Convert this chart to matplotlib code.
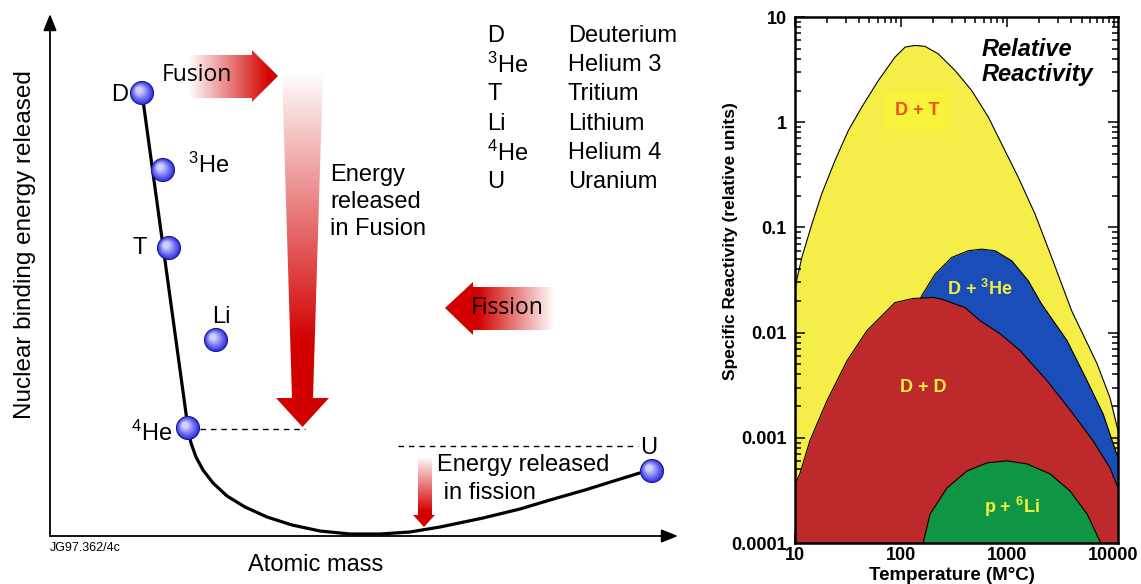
import matplotlib
matplotlib.use('Agg')
import matplotlib.pyplot as plt
import numpy as np
from matplotlib.patches import Polygon, Circle
from matplotlib.ticker import LogLocator, NullFormatter

plt.rcParams['font.family'] = ['Liberation Sans', 'DejaVu Sans']
plt.rcParams['mathtext.fontset'] = 'custom'
plt.rcParams['mathtext.rm'] = 'Liberation Sans'
plt.rcParams['mathtext.bf'] = 'Liberation Sans:bold'
plt.rcParams['mathtext.it'] = 'Liberation Sans:italic'

# ---- left panel: binding energy schematic (arbitrary units, origin at axis corner)
elements = ['D', r'$^{3}$He', 'T', 'Li', r'$^{4}$He', 'U']
elem_x = [92, 113, 119, 166, 138, 602]
elem_y = [443, 366, 288, 196, 108, 65]
label_x = [78, 138, 97, 171, 122, 599]
label_y = [441, 371, 288, 219, 103, 88]
label_ha = ['right', 'left', 'right', 'center', 'right', 'center']

curve_x = [92, 138, 141, 146, 153, 163, 177, 195, 217, 242, 270, 300, 330,
           360, 390, 433, 470, 500, 535, 567, 593]
curve_y = [443, 108, 93, 79, 66, 53, 40, 29, 19, 11, 5, 2, 2,
           4, 9, 18, 27, 36, 46, 56, 64]

legend_symbols = ['D', r'$^{3}$He', 'T', 'Li', r'$^{4}$He', 'U']
legend_names = ['Deuterium', 'Helium 3', 'Tritium', 'Lithium', 'Helium 4', 'Uranium']

# ---- right panel: relative reactivity vs temperature
temp_ticks = [10, 100, 1000, 10000]
temp_ticklabels = ['10', '100', '1000', '10000']
react_ticks = [1e-4, 1e-3, 1e-2, 1e-1, 1, 10]
react_ticklabels = ['0.0001', '0.001', '0.01', '0.1', '1', '10']

dt_T = [10, 11.6, 14.4, 17.8, 23.8, 31.8, 42.5, 60.9, 87.4, 109, 135, 167.5,
        223, 321, 461, 661, 883, 1267, 1820, 2612, 4030, 6980, 9250, 11000]
dt_R = [0.0268, 0.0518, 0.107, 0.207, 0.432, 0.834, 1.39, 2.49, 4.16, 5.18,
        5.37, 5.26, 4.47, 3.11, 2.0, 1.12, 0.621, 0.299, 0.134, 0.0518, 0.0161,
        0.00507, 0.0024, 0.00117]

dhe_T = [63, 109, 156, 208, 299, 428, 573, 764, 1097, 1574, 2104, 3640, 5620,
         7950, 11000]
dhe_R = [0.00145, 0.01045, 0.0224, 0.0359, 0.0518, 0.06, 0.0621, 0.06, 0.0482,
         0.031, 0.0186, 0.0084, 0.00349, 0.00169, 0.000645]

dd_T = [10, 11.1, 13.8, 20, 30.9, 47.6, 87.4, 129, 199, 240, 399, 552,
        851, 1315, 2360, 4150, 6400, 9250, 11000]
dd_R = [0.000365, 0.000454, 0.000936, 0.00225, 0.0054, 0.01045, 0.0193,
        0.0211, 0.0216, 0.0208, 0.0173, 0.013, 0.00977, 0.00674, 0.00349,
        0.00169, 0.000936, 0.000518, 0.000334]

pli_T = [157, 187, 270, 417, 643, 991, 1530, 2517, 3880, 5620, 7950]
pli_R = [0.00009, 0.000189, 0.000334, 0.000485, 0.000578, 0.000604, 0.000565,
         0.000454, 0.000313, 0.000189, 0.00009]

RED = (0.83, 0.0, 0.0)


def gradient_arrow(ax, verts, start, end, z=2):
    # red arrow fading to white from `end` back to `start`
    poly = Polygon(verts, closed=True, fc='none', ec='none')
    ax.add_patch(poly)
    xs, ys = zip(*verts)
    x0, x1, y0, y1 = min(xs), max(xs), min(ys), max(ys)
    n = 200
    gx, gy = np.meshgrid(np.linspace(x0, x1, n), np.linspace(y0, y1, n))
    d = np.array(end, float) - np.array(start, float)
    t = ((gx - start[0]) * d[0] + (gy - start[1]) * d[1]) / (d @ d)
    t = np.clip(t, 0, 1)
    img = np.zeros((n, n, 4))
    img[..., 0], img[..., 1], img[..., 2] = RED
    img[..., 3] = t
    im = ax.imshow(img, extent=[x0, x1, y0, y1], origin='lower', aspect='auto',
                   zorder=z, interpolation='bilinear')
    im.set_clip_path(poly)


def ball(ax, x, y, r=11.5):
    base = np.array([0.19, 0.19, 0.90])
    light = np.array([0.88, 0.88, 1.0])
    ax.add_patch(Circle((x, y), r, fc=base, ec='#1a1a8c', lw=0.8, zorder=5))
    for k in range(1, 10):
        f = k / 10
        c = base * (1 - f) + light * f
        ax.add_patch(Circle((x - 0.28 * r * f, y + 0.28 * r * f), r * (1 - 0.8 * f),
                            fc=c, ec='none', zorder=5))


fig = plt.figure(figsize=(11.41, 5.84), dpi=100)

# ================= left panel =================
axL = fig.add_axes([0, 0, 700 / 1141, 1])
axL.axis('off')

arrow_kw = dict(arrowstyle='-|>,head_length=0.5,head_width=0.2', color='black',
                lw=1.3, shrinkA=0, shrinkB=0, mutation_scale=20)
axL.annotate('', xy=(0, 522), xytext=(0, 0), arrowprops=arrow_kw)
axL.annotate('', xy=(628, 0), xytext=(0, 0), arrowprops=arrow_kw)

axL.plot(curve_x, curve_y, color='black', lw=2.3, solid_capstyle='round',
         solid_joinstyle='round', zorder=3)

axL.plot([150, 255], [107, 107], color='black', lw=1.0, ls=(0, (4, 3.5)), zorder=2)
axL.plot([348, 588], [90, 90], color='black', lw=1.0, ls=(0, (4, 3.5)), zorder=2)

gradient_arrow(axL, [(138, 438), (202, 438), (202, 434), (228, 460), (202, 486),
                     (202, 481), (138, 481)], start=(138, 460), end=(220, 460))
gradient_arrow(axL, [(232, 466), (273, 466), (263, 138), (279, 138), (252.5, 109),
                     (226, 138), (242, 138)], start=(252, 466), end=(252, 195))
gradient_arrow(axL, [(395, 228), (423, 254), (423, 249), (505, 249), (505, 206),
                     (423, 206), (423, 201)], start=(505, 228), end=(428, 228))
gradient_arrow(axL, [(368, 78), (382, 78), (382, 21), (385, 21), (374, 9),
                     (363, 21), (368, 21)], start=(374, 80), end=(374, 25))

for x, y in zip(elem_x, elem_y):
    ball(axL, x, y)
for s, x, y, ha in zip(elements, label_x, label_y, label_ha):
    axL.text(x, y, s, fontsize=17, ha=ha, va='center', zorder=6)

for i, (s, n) in enumerate(zip(legend_symbols, legend_names)):
    axL.text(437, 500 - 29.2 * i, s, fontsize=17, ha='left', va='center')
    axL.text(518, 500 - 29.2 * i, n, fontsize=17, ha='left', va='center')

axL.text(112, 461, 'Fusion', fontsize=16.5, family='Open Sans', ha='left',
         va='center', zorder=4)
axL.text(421, 228, 'Fission', fontsize=16.5, family='Open Sans', ha='left',
         va='center', zorder=4)
axL.text(280, 334, 'Energy\nreleased\nin Fusion', fontsize=17, ha='left',
         va='center', linespacing=1.32)
axL.text(387, 57, 'Energy released\n in fission', fontsize=17, ha='left',
         va='center', linespacing=1.3)

axL.text(-25, 291, 'Nuclear binding energy released', fontsize=17.5, rotation=90,
         ha='center', va='center')
axL.text(266, -29, 'Atomic mass', fontsize=17, ha='center', va='center')
axL.text(0, -12, 'JG97.362/4c', fontsize=9, ha='left', va='center')

axL.set_xlim(-50, 650)
axL.set_ylim(-48, 536)

# ================= right panel =================
axR = fig.add_axes([795 / 1141, 1 - 543 / 584, 323 / 1141, 526 / 584])
axR.set_xscale('log')
axR.set_yscale('log')

layers = [(dt_T, dt_R, '#F5EE48'), (dhe_T, dhe_R, '#1B4DB8'),
          (dd_T, dd_R, '#BE2A2B'), (pli_T, pli_R, '#0E9645')]
for k, (T, R, c) in enumerate(layers):
    axR.fill_between(T, R, 1e-6, color=c, lw=0, zorder=1 + k)
    axR.plot(T, R, color='black', lw=0.8, zorder=1.5 + k)

axR.set_xlim(10, 11000)
axR.set_ylim(1e-4, 10)

axR.set_xticks(temp_ticks)
axR.set_xticklabels(temp_ticklabels, fontsize=13, fontweight='bold')
axR.set_yticks(react_ticks)
axR.set_yticklabels(react_ticklabels, fontsize=13, fontweight='bold')
axR.xaxis.set_minor_locator(LogLocator(base=10, subs=np.arange(2, 10), numticks=20))
axR.yaxis.set_minor_locator(LogLocator(base=10, subs=np.arange(2, 10), numticks=20))
axR.xaxis.set_minor_formatter(NullFormatter())
axR.yaxis.set_minor_formatter(NullFormatter())
axR.tick_params(which='both', direction='in', top=True, right=True, width=1.1,
                zorder=10)
axR.tick_params(which='major', length=7)
axR.tick_params(axis='x', which='major', pad=3)
axR.tick_params(axis='y', which='major', pad=6)
axR.tick_params(which='minor', length=4)
for sp in axR.spines.values():
    sp.set_linewidth(1.8)
    sp.set_zorder(10)

axR.set_ylabel('Specific Reactivity (relative units)', fontsize=12.5, fontweight='bold')
axR.yaxis.set_label_coords(-0.176, 0.574)
axR.set_xlabel('Temperature (M°C)', fontsize=13.5, fontweight='bold')
axR.xaxis.set_label_coords(0.486, -0.045)

axR.text(141, 1.3, 'D + T', fontsize=13, fontweight='bold', color='#F0501E',
         ha='center', va='center', zorder=8,
         bbox=dict(boxstyle='square,pad=0.6', fc='#F8F23A', ec='none'))
axR.text(552, 0.0262, r'D + $^\mathbf{3}$He', fontsize=13, fontweight='bold',
         color='#F5EE3A', ha='center', va='center', zorder=8)
axR.text(160, 0.003, 'D + D', fontsize=13, fontweight='bold',
         color='#F5EE3A', ha='center', va='center', zorder=8)
axR.text(1104, 0.00022, r'p + $^\mathbf{6}$Li', fontsize=13, fontweight='bold',
         color='#F5EE3A', ha='center', va='center', zorder=8)
axR.text(577, 3.73, 'Relative\nReactivity', fontsize=17, fontweight='bold',
         style='italic', ha='left', va='center', linespacing=1.12, zorder=8)

fig.savefig('out.png', dpi=100)
